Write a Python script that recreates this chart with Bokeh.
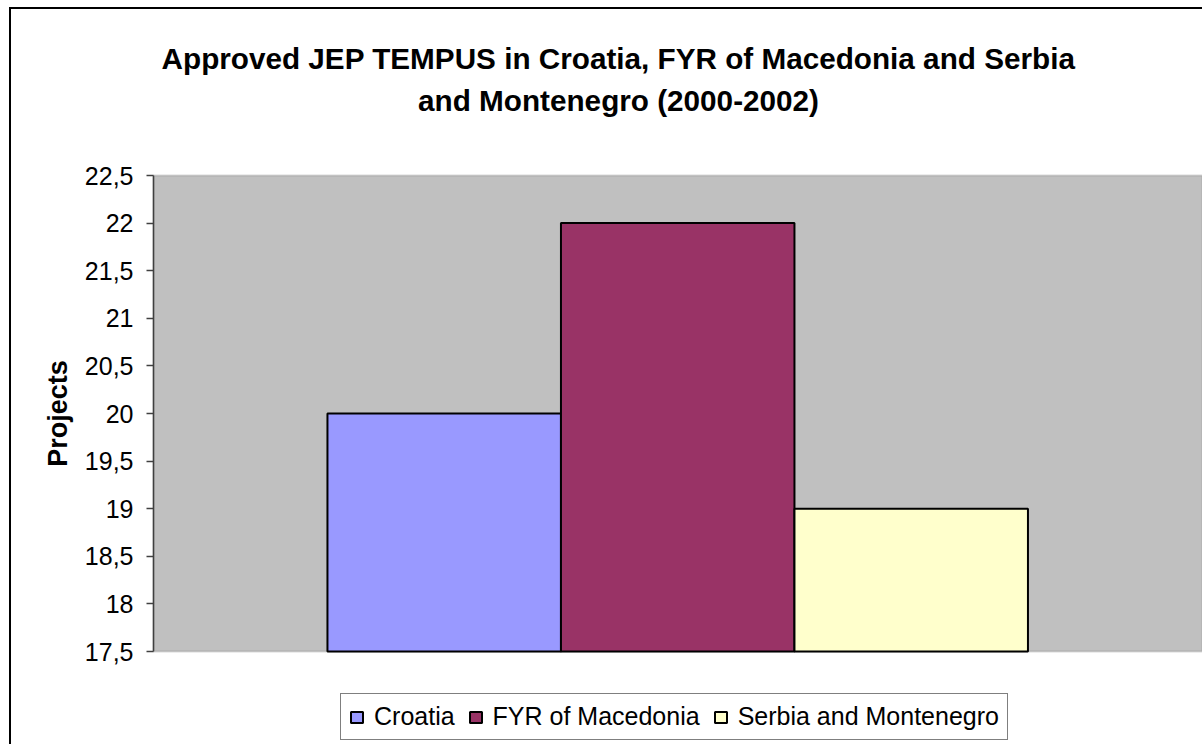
import math
from bokeh.plotting import figure
from bokeh.models import (Range1d, FixedTicker, Legend, LegendItem, Label,
                          BoxAnnotation, ColumnDataSource)
from bokeh.embed import file_html
from bokeh.resources import INLINE

# ---- data ----
countries = ["Croatia", "FYR of Macedonia", "Serbia and Montenegro"]
projects = [20, 22, 19]
colors = ["#9999FF", "#993366", "#FFFFCC"]
tick_values = [17.5, 18, 18.5, 19, 19.5, 20, 20.5, 21, 21.5, 22, 22.5]
tick_labels = ["17,5", "18", "18,5", "19", "19,5", "20", "20,5", "21", "21,5", "22", "22,5"]
title_lines = ["Approved JEP TEMPUS in Croatia, FYR of Macedonia and Serbia",
               "and Montenegro (2000-2002)"]
y_label = "Projects"

FONT = "Liberation Sans"
y_min, y_max = tick_values[0], tick_values[-1]

# ---- layout (pixels) ----
W, H = 1202, 744
AREA_L, AREA_T, AREA_B = 153, 175, 651      # plot area edges
PX_X = 233.5                                 # pixels per category unit
PX_Y = (AREA_B - AREA_T) / (y_max - y_min)   # pixels per project
x_axis_pos = -1.245                          # left edge of the plot area (data units)
x_lo = x_axis_pos - AREA_L / PX_X
x_hi = x_lo + W / PX_X
y_hi = y_max + AREA_T / PX_Y
y_lo = y_min - (H - AREA_B) / PX_Y


def X(px):
    return x_lo + px / PX_X


def Y(py):
    return y_hi - py / PX_Y


p = figure(width=W, height=H, output_backend="svg", toolbar_location=None,
           x_range=Range1d(x_lo, x_hi), y_range=Range1d(y_lo, y_hi),
           x_axis_location=None, title=None, min_border=0)
p.background_fill_color = None
p.border_fill_color = None
p.outline_line_color = None
p.xgrid.visible = False
p.ygrid.visible = False
# outer chart border (top and left edges, the rest is cropped in the reference)
p.styles = {
    "background-color": "white",
    "background-image": "linear-gradient(#000,#000), linear-gradient(#000,#000)",
    "background-size": "2px 100%, 100% 2px",
    "background-position": "9px 7px, 9px 7px",
    "background-repeat": "no-repeat",
}

# grey plot area
p.add_layout(BoxAnnotation(left=x_axis_pos, bottom=y_min, top=y_max,
                           fill_color="#C0C0C0", fill_alpha=1.0,
                           line_color="#808080", line_width=2, level="underlay"))

src = ColumnDataSource(dict(x=list(range(len(countries))), top=projects,
                            color=colors, name=countries))
r = p.vbar(x="x", top="top", bottom=y_min, width=1.0, source=src,
           fill_color="color", line_color="black", line_width=2)

ax = p.yaxis[0]
ax.fixed_location = x_axis_pos
ax.bounds = (y_min, y_max)
ax.ticker = FixedTicker(ticks=tick_values)
ax.major_label_overrides = {v: s for v, s in zip(tick_values, tick_labels)}
ax.major_label_text_font = FONT
ax.major_label_text_font_size = "25px"
ax.major_label_text_color = "black"
ax.major_label_standoff = 13
ax.major_tick_in = 0
ax.major_tick_out = 7
ax.minor_tick_line_color = None
ax.axis_line_color = "#404040"
ax.axis_line_width = 1.5
ax.major_tick_line_color = "#404040"
ax.major_tick_line_width = 1.5

# title (two centred lines)
for line, base in zip(title_lines, (58, 100)):
    p.add_layout(Label(x=X(618), y=Y(base), text=line, text_font=FONT,
                       text_font_size="29.7px", text_font_style="bold",
                       text_color="black", text_align="center",
                       text_baseline="alphabetic"))

# y axis title
p.add_layout(Label(x=X(57), y=Y(413), text=y_label, angle=math.pi / 2,
                   text_font=FONT, text_font_size="27px", text_font_style="bold",
                   text_color="black", text_align="center",
                   text_baseline="middle"))

# legend under the plot area
items = [LegendItem(label=c, renderers=[r], index=i) for i, c in enumerate(countries)]
legend = Legend(items=items, orientation="horizontal", location=(340, 4),
                label_text_font=FONT, label_text_font_size="25px",
                label_text_color="black", glyph_width=15, glyph_height=14,
                label_standoff=10, spacing=13, padding=8, margin=0,
                border_line_color="black", border_line_width=1,
                background_fill_color="white", background_fill_alpha=1.0)
p.add_layout(legend, "center")

open("out.html", "w").write(file_html(p, INLINE))
